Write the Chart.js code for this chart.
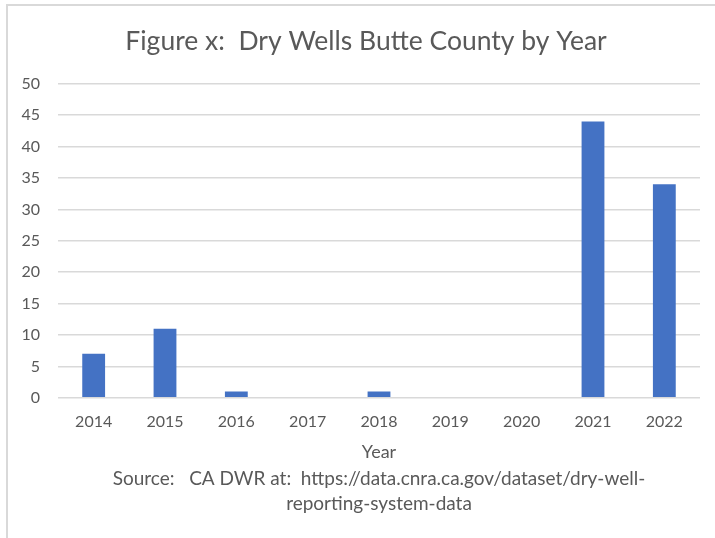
<!DOCTYPE html>
<html lang="en">
<head>
<meta charset="UTF-8">
<title>Dry Wells Butte County</title>
<style>
  html, body { margin: 0; padding: 0; background: #ffffff; }
  .wrap { position: relative; width: 715px; height: 538px; }
  .frame {
    position: absolute; left: 6px; top: 4px; right: -2px; bottom: -2px;
    border-left: 2px solid #d9d9d9; border-top: 2px solid #d9d9d9;
    pointer-events: none;
  }
</style>
</head>
<body>
<div class="wrap">
  <canvas id="plot" width="715" height="538"></canvas>
  <div class="frame"></div>
</div>
<script src="https://cdn.jsdelivr.net/npm/chart.js"></script>
<script>
const years = ['2014', '2015', '2016', '2017', '2018', '2019', '2020', '2021', '2022'];
const dryWells = [7, 11, 1, 0, 1, 0, 0, 44, 34];
const titleText = 'Figure x:  Dry Wells Butte County by Year';
const sourceLines = [
  'Source:   CA DWR at:  https://data.cnra.ca.gov/dataset/dry-well-',
  'reporting-system-data'
];

const textGrey = '#595959';
const gridGrey = '#d9d9d9';
const fam = 'Lato, "Open Sans", sans-serif';

// title sits a bit right of the canvas middle, the source note is centred on the plot
const textShift = {
  id: 'textShift',
  afterLayout(chart) {
    const t = chart.titleBlock;
    if (t) { t.left += 16; t.right += 16; }
    chart.boxes
      .filter((b) => b.position === 'bottom' && !b.axis)
      .forEach((b) => { b.left = chart.chartArea.left; b.right = chart.chartArea.right; });
  }
};

new Chart(document.getElementById('plot'), {
  type: 'bar',
  data: {
    labels: years,
    datasets: [{
      label: 'Dry wells',
      data: dryWells,
      backgroundColor: '#4472c4',
      categoryPercentage: 0.64,
      barPercentage: 0.5,
    }]
  },
  plugins: [textShift],
  options: {
    responsive: false,
    animation: false,
    layout: { padding: { left: 0, right: 15, top: 26, bottom: 22 } },
    plugins: {
      legend: { display: false },
      tooltip: { enabled: false },
      title: {
        display: true,
        text: titleText,
        color: textGrey,
        font: { family: fam, size: 26.5, weight: 'normal' },
        padding: { top: 0, bottom: 26 },
      },
      subtitle: {
        display: true,
        position: 'bottom',
        text: sourceLines,
        color: textGrey,
        font: { family: fam, size: 19, weight: 'normal', lineHeight: 1.32 },
        padding: { top: 0, bottom: 0 },
      },
    },
    scales: {
      x: {
        grid: { display: false, drawTicks: false },
        border: { display: false },
        ticks: {
          color: textGrey,
          font: { family: fam, size: 16 },
          padding: 14,
        },
        title: {
          display: true,
          text: 'Year',
          color: textGrey,
          font: { family: fam, size: 18 },
          padding: { top: 4, bottom: 3 },
        },
        afterFit: (scale) => { scale.height = 68; },
      },
      y: {
        min: 0,
        max: 50,
        ticks: {
          stepSize: 5,
          color: textGrey,
          font: { family: fam, size: 16 },
          padding: 18,
        },
        grid: { color: gridGrey, lineWidth: 1.5, drawTicks: false },
        border: { display: false },
        afterFit: (scale) => { scale.width = 58; },
      },
    },
  },
});
</script>
</body>
</html>
